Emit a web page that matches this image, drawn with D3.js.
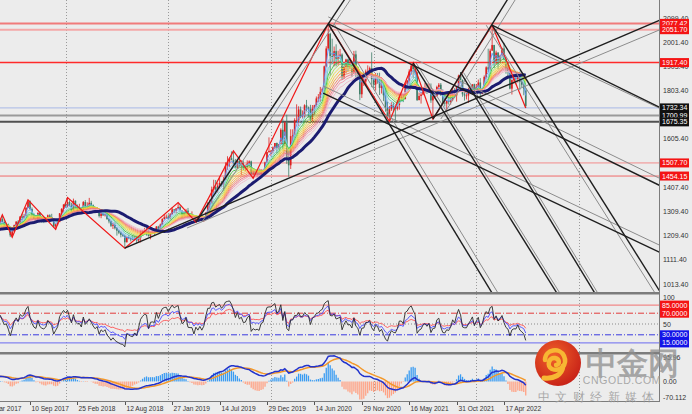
<!DOCTYPE html>
<html>
<head>
<meta charset="utf-8">
<script src="https://cdn.jsdelivr.net/npm/d3@7/dist/d3.min.js"></script>
<style>
  body { margin: 0; background: #ececec; }
  svg { display: block; }
  text { font-family: "Liberation Sans", Arial, sans-serif; }
</style>
</head>
<body>
<svg id="chart" width="692" height="414"></svg>
<script>
// weekly gold bars, first bar = week of 1 Jan 2017
const firstWeek = "2017-01-01";
const closes = [
  1173,1197,1204,1190,1220,1234,1239,1257,1234,1201,1229,1244,1249,1254,1285,1283,1268,1228,1228,1254,
  1268,1279,1266,1254,1256,1241,1212,1228,1254,1268,1258,1289,1284,1291,1325,1351,1320,1297,1280,1274,
  1304,1280,1272,1269,1274,1294,1287,1280,1248,1257,1266,1302,
  1320,1338,1332,1348,1333,1316,1353,1329,1322,1323,1312,1348,1323,1332,1345,1335,1323,1314,1319,1291,
  1301,1294,1298,1278,1269,1251,1255,1241,1231,1223,1214,1212,1184,1206,1201,1196,1194,1199,1191,1203,
  1220,1228,1234,1233,1209,1222,1223,1222,1248,1238,1256,1279,
  1286,1288,1282,1298,1318,1314,1322,1328,1313,1298,1302,1313,1292,1291,1291,1275,1286,1279,1285,1277,
  1283,1305,1341,1341,1399,1409,1399,1415,1426,1419,1440,1497,1513,1527,1520,1507,1488,1516,1497,1505,
  1489,1490,1505,1514,1459,1468,1462,1464,1460,1476,1479,1510,
  1552,1557,1557,1571,1589,1570,1584,1643,1585,1673,1529,1498,1617,1620,1683,1683,1726,1700,1702,1743,
  1734,1729,1683,1729,1743,1771,1775,1798,1810,1902,1975,2035,1944,1940,1964,1933,1940,1950,1861,1900,
  1930,1899,1902,1879,1951,1889,1872,1788,1839,1840,1881,1883,
  1895,1850,1828,1856,1848,1814,1824,1784,1734,1700,1727,1745,1733,1729,1744,1777,1777,1768,1831,1844,
  1881,1905,1891,1877,1764,1781,1787,1808,1815,1802,1814,1763,1780,1781,1818,1827,1788,1754,1750,1761,
  1757,1768,1793,1783,1818,1864,1846,1788,1783,1783,1798,1811,1829,
  1797,1818,1836,1791,1808,1859,1898,1889,1966,1989,1921,1958,1925,1945,1975,1932,1896,1883,1811,1846,
  1853,1851,1871,1839,1827,1811,1740
];
const highs = [
  1183,1207,1220,1219,1226,1245,1245,1259,1264,1236,1233,1261,1259,1273,1289,1295,1287,1270,1237,1264,
  1270,1280,1296,1275,1263,1260,1243,1230,1256,1270,1274,1290,1300,1300,1326,1357,1355,1326,1302,1283,
  1306,1306,1288,1282,1287,1297,1298,1300,1281,1260,1268,1303,
  1323,1339,1345,1366,1355,1345,1362,1355,1338,1341,1328,1352,1356,1347,1365,1353,1338,1326,1326,1321,
  1307,1308,1306,1309,1280,1273,1264,1265,1246,1235,1228,1218,1216,1207,1214,1206,1214,1211,1210,1208,
  1233,1233,1243,1243,1237,1225,1230,1230,1250,1251,1260,1282,
  1298,1297,1298,1303,1326,1319,1323,1346,1334,1300,1311,1320,1324,1299,1310,1296,1288,1290,1290,1303,
  1287,1306,1348,1358,1411,1439,1438,1427,1453,1434,1450,1510,1535,1531,1555,1557,1524,1523,1535,1519,
  1517,1501,1518,1518,1517,1477,1478,1474,1485,1483,1481,1513,
  1553,1612,1561,1575,1589,1591,1584,1649,1689,1676,1704,1560,1645,1645,1690,1747,1739,1738,1722,1747,
  1765,1738,1745,1744,1745,1779,1789,1818,1815,1905,1984,2075,2039,2015,1983,1992,1966,1973,1955,1902,
  1933,1933,1934,1911,1965,1966,1898,1875,1848,1875,1889,1906,
  1901,1959,1864,1875,1875,1876,1855,1822,1815,1759,1740,1755,1756,1740,1759,1790,1798,1790,1836,1846,
  1890,1913,1916,1903,1878,1795,1795,1818,1834,1833,1832,1832,1782,1796,1823,1834,1834,1808,1788,1764,
  1781,1800,1814,1813,1818,1868,1877,1849,1809,1793,1815,1815,1829,
  1831,1830,1848,1854,1812,1865,1902,1974,1974,2070,1990,1966,1960,1949,1978,1998,1936,1910,1885,1849,
  1870,1875,1875,1880,1848,1830,1813
];
const lows = [
  1146,1172,1195,1180,1188,1217,1216,1232,1233,1195,1197,1229,1238,1240,1253,1276,1258,1226,1214,1228,
  1247,1258,1265,1249,1241,1236,1205,1204,1225,1250,1250,1257,1266,1281,1290,1323,1315,1288,1280,1260,
  1272,1276,1263,1262,1266,1270,1280,1271,1244,1236,1252,1266,
  1302,1306,1326,1326,1329,1307,1312,1321,1303,1315,1307,1309,1322,1321,1326,1332,1316,1302,1305,1285,
  1282,1291,1289,1276,1261,1246,1238,1236,1211,1217,1204,1206,1160,1183,1196,1187,1193,1192,1180,1181,
  1183,1211,1221,1211,1207,1196,1217,1212,1221,1233,1234,1254,
  1276,1280,1276,1277,1297,1303,1302,1318,1310,1281,1290,1296,1280,1281,1286,1271,1266,1267,1277,1275,
  1267,1274,1305,1320,1340,1385,1381,1386,1403,1411,1400,1437,1480,1492,1518,1503,1485,1484,1492,1459,
  1478,1474,1480,1487,1456,1445,1457,1452,1458,1458,1470,1477,
  1508,1549,1536,1547,1563,1548,1563,1584,1563,1576,1504,1451,1483,1567,1610,1681,1659,1690,1688,1692,
  1718,1693,1670,1677,1703,1737,1756,1757,1795,1800,1898,1968,1863,1911,1902,1902,1906,1932,1848,1851,
  1873,1882,1890,1860,1872,1850,1853,1764,1773,1822,1826,1855,
  1864,1817,1808,1803,1831,1785,1791,1760,1717,1687,1677,1720,1718,1678,1722,1725,1760,1756,1768,1808,
  1825,1868,1855,1866,1761,1770,1750,1784,1792,1789,1794,1753,1687,1770,1778,1809,1781,1745,1738,1721,
  1746,1746,1760,1772,1758,1813,1845,1778,1762,1767,1753,1789,1789,
  1783,1789,1805,1780,1788,1806,1849,1878,1890,1967,1895,1910,1890,1916,1941,1929,1872,1850,1808,1787,
  1831,1828,1836,1805,1816,1784,1732
];

const priceTicks = [2099.40, 2001.40, 1903.40, 1803.40, 1704.40, 1605.40, 1507.40, 1407.40, 1309.40, 1209.40, 1111.40, 1013.40];
const redLevels = [2077.42, 2051.70, 1917.40, 1507.70, 1454.15];
const darkLevels = [1732.34, 1700.99, 1675.35];
const dateLabels = ["26 Mar 2017", "10 Sep 2017", "25 Feb 2018", "12 Aug 2018", "27 Jan 2019", "14 Jul 2019",
  "29 Dec 2019", "14 Jun 2020", "29 Nov 2020", "16 May 2021", "31 Oct 2021", "17 Apr 2022"];
const gridDates = ["2018-01-14", "2019-01-13", "2020-01-12", "2021-01-10", "2022-01-09", "2023-01-08"];
// zigzag swing bars, alternating low / high
const zigIdx = [18, 22, 27, 35, 49, 55, 84, 111, 120, 139, 149, 187, 218, 230, 240, 270, 287];
const rsiLevels = [85, 70, 50, 30, 15];
const macdLabels = ["95.96", "0.00", "-70.112"];
// trend lines: [week1, price1, week2, price2], drawn as rays to the right
const blackLines = [
  [84, 1160, 167, 1445],
  [120, 1266, 187, 2075],
  [240, 1687, 264, 1997],
  [187, 2075, 270, 976],
  [230, 1916, 302.8, 976],
  [254, 1877, 322, 976],
  [270, 2070, 355.5, 976],
  [187, 2075, 354.5, 1417],
  [184.4, 1793, 354.5, 1144],
  [270, 2070, 354.5, 1736]
];
const grayLines = [
  [115.5, 1242, 354.5, 2050],
  [123, 1266, 190, 2075],
  [244, 1687, 268, 1997],
  [190, 2075, 273, 976],
  [231.5, 1916, 304.3, 976],
  [255.5, 1877, 323.5, 976],
  [267, 2070, 352.5, 976],
  [187, 2104, 354.5, 1446],
  [184.4, 1822, 354.5, 1173],
  [270, 2050, 354.5, 1732]
];

const svg = d3.select("#chart");
const W = 692, H = 414, axisX = 659;
const DAY = 864e5;
const t0 = d3.utcParse("%Y-%m-%d")(firstWeek).getTime();
const weekDate = i => new Date(t0 + i * 7 * DAY);

const x = d3.scaleUtc()
  .domain([Date.UTC(2017, 8, 10), Date.UTC(2022, 3, 17)])
  .range([30, 504]);
const y = d3.scaleLinear().domain([1013.4, 2099.4]).range([284, 18]);
const yRsi = d3.scaleLinear().domain([0, 100]).range([351, 297]);
const yMacd = d3.scaleLinear().domain([-70.112, 95.96]).range([400, 356]);

const xi = i => x(weekDate(i));

// indicators
function ema(src, n) {
  const k = 2 / (n + 1);
  let prev = src[0];
  return src.map((v, i) => (prev = i ? v * k + prev * (1 - k) : v));
}
function sma(src, n) {
  return src.map((v, i) => d3.mean(src.slice(Math.max(0, i - n + 1), i + 1)));
}
function rsi(src, n) {
  let ag = 0, al = 0;
  return src.map((v, i) => {
    if (i === 0) return 50;
    const ch = v - src[i - 1];
    ag = (ag * (n - 1) + Math.max(ch, 0)) / n;
    al = (al * (n - 1) + Math.max(-ch, 0)) / n;
    return al === 0 ? 100 : 100 - 100 / (1 + ag / al);
  });
}

svg.append("rect").attr("width", W).attr("height", H).attr("fill", "#ececec");

const defs = svg.append("defs");
defs.append("clipPath").attr("id", "cMain").append("rect").attr("x", 0).attr("y", 0).attr("width", axisX).attr("height", 292);
defs.append("clipPath").attr("id", "cRsi").append("rect").attr("x", 0).attr("y", 296).attr("width", axisX).attr("height", 56);
defs.append("clipPath").attr("id", "cMacd").append("rect").attr("x", 0).attr("y", 355).attr("width", axisX).attr("height", 46);

// vertical dotted grid
const grid = svg.append("g");
gridDates.forEach(d => {
  const gx = Math.round(x(d3.utcParse("%Y-%m-%d")(d))) + 0.5;
  grid.append("line").attr("x1", gx).attr("x2", gx).attr("y1", 0).attr("y2", 402)
    .attr("stroke", "#9a9a9a").attr("stroke-dasharray", "1,2");
});

// ---------- main panel ----------
const main = svg.append("g").attr("clip-path", "url(#cMain)");

// horizontal levels
const levelStyle = {
  2077.42: ["#f07a7a", 2], 2051.70: ["#f4a8a8", 2], 1917.40: ["#ff2a2a", 1.5],
  1507.70: ["#f38c8c", 1], 1454.15: ["#f06a6a", 1],
  1732.34: ["#a9b8e6", 1], 1700.99: ["#9a9a9a", 2], 1675.35: ["#505050", 2]
};
redLevels.concat(darkLevels).forEach(p => {
  const ly = y(p);
  main.append("line").attr("x1", 0).attr("x2", axisX).attr("y1", ly).attr("y2", ly)
    .attr("stroke", levelStyle[p][0]).attr("stroke-width", levelStyle[p][1]);
});

// candles
const bars = main.append("g");
closes.forEach((c, i) => {
  const o = i ? closes[i - 1] : c;
  const cx = xi(i);
  const up = c >= o;
  const col = up ? "#dc1f1f" : "#3f7d68";
  bars.append("line").attr("x1", cx).attr("x2", cx)
    .attr("y1", y(Math.max(highs[i], o, c))).attr("y2", y(Math.min(lows[i], o, c)))
    .attr("stroke", col).attr("stroke-width", 0.8);
  bars.append("rect").attr("x", cx - 0.8).attr("width", 1.6)
    .attr("y", y(Math.max(o, c))).attr("height", Math.max(0.8, Math.abs(y(o) - y(c))))
    .attr("fill", col);
});

// ma ribbon
const ribbonPeriods = [3, 5, 7, 9, 11, 13, 15, 17, 19, 21, 23, 26];
const ribbonColors = ["#5b8ff0", "#8ec6f2", "#63d1c4", "#3fc43f", "#a6df5a", "#e6e03c",
  "#f7c33e", "#f7a23c", "#f6845c", "#f0707e", "#f29aac", "#f0b8c8"];
const lineGen = d3.line().x((d, i) => xi(i)).y(d => y(d));
ribbonPeriods.forEach((n, k) => {
  main.append("path").datum(ema(closes, n)).attr("d", lineGen)
    .attr("fill", "none").attr("stroke", ribbonColors[k]).attr("stroke-width", 1).attr("opacity", 0.9);
});
main.append("path").datum(sma(closes, 30)).attr("d", lineGen)
  .attr("fill", "none").attr("stroke", "#1b1b70").attr("stroke-width", 3);

// zigzag
const zig = zigIdx.map((i, k) => [xi(i), y(k % 2 ? highs[i] : lows[i])]);
main.append("path").attr("d", d3.line()(zig)).attr("fill", "none")
  .attr("stroke", "#f01818").attr("stroke-width", 1.2);

// trend rays
function ray(l, color, width) {
  const x1 = xi(l[0]), y1 = y(l[1]), x2 = xi(l[2]), y2 = y(l[3]);
  const s = (y2 - y1) / (x2 - x1);
  const xe = 700;
  main.append("line").attr("x1", x1).attr("y1", y1).attr("x2", xe).attr("y2", y1 + s * (xe - x1))
    .attr("stroke", color).attr("stroke-width", width);
}
grayLines.forEach(l => ray(l, "#8c8c8c", 1));
blackLines.forEach(l => ray(l, "#1e1e1e", 1.4));

// ---------- RSI panel ----------
const rp = svg.append("g").attr("clip-path", "url(#cRsi)");
const rsiLevelStyle = {85: ["#f27070", null], 70: ["#e23a3a", "6,2,1,2"], 50: ["#8a8a8a", "1,2"],
  30: ["#3a3ae0", "6,2,1,2"], 15: ["#6a6af0", null]};
rsiLevels.forEach(v => {
  rp.append("line").attr("x1", 0).attr("x2", axisX).attr("y1", yRsi(v)).attr("y2", yRsi(v))
    .attr("stroke", rsiLevelStyle[v][0]).attr("stroke-dasharray", rsiLevelStyle[v][1]);
});
const rsiLine = d3.line().x((d, i) => xi(i)).y(d => yRsi(d));
[[24, "#ff5252"], [12, "#4b4bff"], [6, "#2a2a2a"]].forEach(([n, col]) => {
  rp.append("path").datum(rsi(closes, n)).attr("d", rsiLine)
    .attr("fill", "none").attr("stroke", col).attr("stroke-width", 0.9);
});

// ---------- MACD panel ----------
const mp = svg.append("g").attr("clip-path", "url(#cMacd)");
const e12 = ema(closes, 12), e26 = ema(closes, 26);
const macd = e12.map((v, i) => v - e26[i]);
const signal = ema(macd, 9);
const hist = macd.map((v, i) => 3 * (v - signal[i]));
hist.forEach((h, i) => {
  const hx = xi(i);
  mp.append("line").attr("x1", hx).attr("x2", hx).attr("y1", yMacd(0)).attr("y2", yMacd(h))
    .attr("stroke", h >= 0 ? "#3a9cf2" : "#ffa284").attr("stroke-width", 1.3);
});
const macdLine = d3.line().x((d, i) => xi(i)).y(d => yMacd(d));
mp.append("path").datum(signal).attr("d", macdLine).attr("fill", "none").attr("stroke", "#f3982a").attr("stroke-width", 1.5);
mp.append("path").datum(macd).attr("d", macdLine).attr("fill", "none").attr("stroke", "#2233cc").attr("stroke-width", 1.5);

// ---------- frames ----------
const fr = svg.append("g");
fr.append("rect").attr("x", 0).attr("y", 292).attr("width", axisX).attr("height", 2.5).attr("fill", "#7c7c7c");
fr.append("rect").attr("x", 0).attr("y", 352).attr("width", axisX).attr("height", 2.5).attr("fill", "#7c7c7c");
fr.append("line").attr("x1", 0).attr("x2", axisX + 0.5).attr("y1", 401.5).attr("y2", 401.5).attr("stroke", "#7c7c7c");
fr.append("line").attr("x1", axisX + 0.5).attr("x2", axisX + 0.5).attr("y1", 0).attr("y2", 402).attr("stroke", "#7c7c7c");

// right axis labels
const ax = svg.append("g").attr("font-size", 7).attr("fill", "#333");
priceTicks.forEach(p => {
  ax.append("text").attr("x", 663).attr("y", y(p) + 2.5).text(p.toFixed(2));
});
function tag(ty, label, fill) {
  ax.append("rect").attr("x", 660).attr("y", ty - 4.5).attr("width", 29).attr("height", 9).attr("fill", fill);
  ax.append("text").attr("x", 662).attr("y", ty + 2.5).attr("fill", "#fff").text(label);
}
redLevels.forEach(p => tag(y(p), p.toFixed(2), "#f41414"));
darkLevels.forEach(p => tag(y(p), p.toFixed(2), "#111"));

ax.append("text").attr("x", 663).attr("y", yRsi(100) + 3).text("100");
ax.append("text").attr("x", 663).attr("y", yRsi(50) + 2.5).text("50");
[85, 70].forEach(v => tag(yRsi(v), v.toFixed(4), "#f41414"));
[30, 15].forEach(v => tag(yRsi(v), v.toFixed(4), "#1414e8"));
[95.96, 0, -70.112].forEach((v, k) => {
  ax.append("text").attr("x", 663).attr("y", yMacd(v) + (k === 0 ? 4 : k === 2 ? -0.5 : 2.5)).text(macdLabels[k]);
});

// date axis
const dAx = svg.append("g").attr("font-size", 6.6).attr("fill", "#333");
const parseLbl = d3.utcParse("%d %b %Y");
dateLabels.forEach(s => {
  const dx = Math.round(x(parseLbl(s))) + 0.5;
  dAx.append("line").attr("x1", dx).attr("x2", dx).attr("y1", 402).attr("y2", 405).attr("stroke", "#555");
  dAx.append("text").attr("x", dx + 1).attr("y", 410.5).text(s);
});

// ---------- watermark ----------
const wm = svg.append("g");
const grad = defs.append("radialGradient").attr("id", "logoG").attr("cx", "40%").attr("cy", "35%").attr("r", "70%");
grad.append("stop").attr("offset", "0%").attr("stop-color", "#f0622a");
grad.append("stop").attr("offset", "100%").attr("stop-color", "#c61f17");
wm.append("circle").attr("cx", 558).attr("cy", 363).attr("r", 23).attr("fill", "url(#logoG)");
wm.append("path").attr("transform", "translate(558,363)")
  .attr("d", "M-13,-3 C-13,-14 2,-16 6,-7 C10,2 2,9 -6,6 C-12,3 -9,-6 -3,-5 C2,-4 2,2 -2,2")
  .attr("fill", "none").attr("stroke", "#f7b733").attr("stroke-width", 4.5).attr("stroke-linecap", "round");
wm.append("path").attr("transform", "translate(558,363)")
  .attr("d", "M5,3 C4,12 -4,16 -14,15")
  .attr("fill", "none").attr("stroke", "#f7b733").attr("stroke-width", 5).attr("stroke-linecap", "round");
wm.append("text").attr("x", 632).attr("y", 374).attr("text-anchor", "middle")
  .attr("font-family", "'Noto Sans CJK SC', sans-serif").attr("font-weight", 700).attr("font-size", 31)
  .attr("fill", "#8e8e8e").attr("fill-opacity", 0.75).text("中金网");
wm.append("text").attr("x", 622).attr("y", 384).attr("text-anchor", "middle")
  .attr("font-family", "'Liberation Sans', Arial, sans-serif").attr("font-size", 10.5).attr("letter-spacing", 0.6)
  .attr("fill", "#9a9a9a").attr("fill-opacity", 0.85).text("CNGOLD.COM");
wm.append("text").attr("x", 538).attr("y", 401).attr("text-anchor", "start")
  .attr("font-family", "'Noto Sans CJK SC', sans-serif").attr("font-size", 12).attr("letter-spacing", 5.4)
  .attr("fill", "#9a9a9a").attr("fill-opacity", 0.85).text("中文财经新媒体");
</script>
</body>
</html>
